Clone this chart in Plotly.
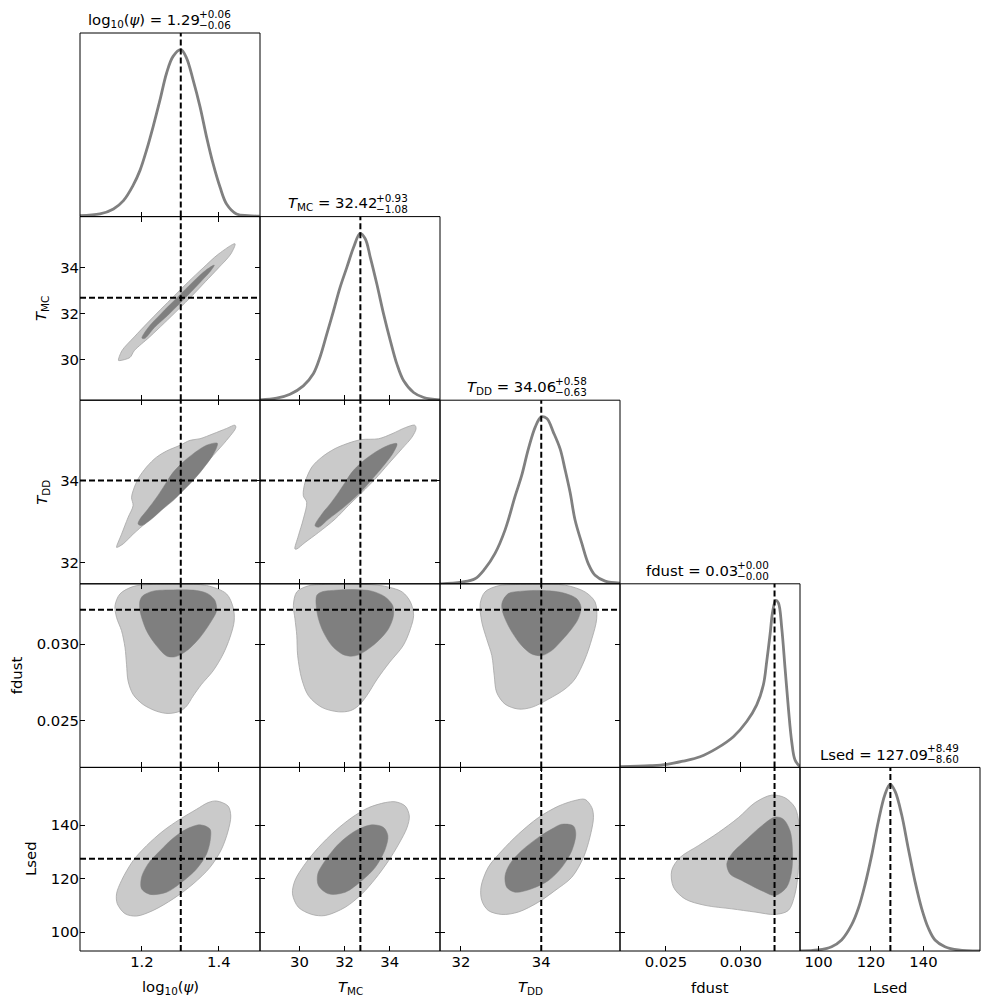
import plotly.graph_objects as go
from plotly.subplots import make_subplots

# ---------------- data ----------------
param_labels = ["log<sub>10</sub>(<i>ψ</i>)", "<i>T</i><sub>MC</sub>", "<i>T</i><sub>DD</sub>", "fdust", "Lsed"]
medians = ["1.29", "32.42", "34.06", "0.03", "127.09"]
err_plus = ["+0.06", "+0.93", "+0.58", "+0.00", "+8.49"]
err_minus = ["−0.06", "−1.08", "−0.63", "−0.00", "−8.60"]
truths = [1.301, 32.70, 34.00, 0.03225, 127.4]
tick_values = [[1.2, 1.4], [30, 32, 34], [32, 34], [0.025, 0.030], [100, 120, 140]]
tick_labels = [["1.2", "1.4"], ["30", "32", "34"], ["32", "34"], ["0.025", "0.030"], ["100", "120", "140"]]
axis_ranges = [[1.039, 1.507], [28.25, 36.23], [31.48, 35.96], [0.02193, 0.03395], [92.94, 161.56]]

# 1-D marginal densities (normalised to peak = 1)
psi_kde_x = [1.039, 1.091, 1.126, 1.152, 1.177, 1.195, 1.212, 1.229, 1.247, 1.264, 1.281, 1.301,
             1.316, 1.333, 1.351, 1.368, 1.385, 1.403, 1.420, 1.446, 1.476, 1.506]
psi_kde_y = [0.006, 0.016, 0.046, 0.096, 0.187, 0.277, 0.398, 0.538, 0.699, 0.859, 0.960, 1.0,
             0.950, 0.819, 0.659, 0.478, 0.317, 0.177, 0.076, 0.016, 0.006, 0.002]
tmc_kde_x = [28.25, 28.99, 29.58, 30.17, 30.62, 30.92, 31.21, 31.51, 31.80, 32.10, 32.40, 32.69,
             32.92, 33.14, 33.43, 33.73, 34.03, 34.32, 34.62, 35.06, 35.51, 36.25]
tmc_kde_y = [0.002, 0.012, 0.036, 0.086, 0.160, 0.262, 0.396, 0.536, 0.676, 0.796, 0.916, 1.0,
             0.966, 0.856, 0.696, 0.516, 0.356, 0.216, 0.116, 0.046, 0.016, 0.002]
tdd_kde_x = [31.48, 32.02, 32.35, 32.60, 32.85, 33.10, 33.35, 33.51, 33.68, 33.85, 34.00, 34.14,
             34.30, 34.47, 34.59, 34.72, 34.84, 35.01, 35.17, 35.34, 35.59, 35.96]
tdd_kde_y = [0.0, 0.010, 0.030, 0.091, 0.182, 0.323, 0.525, 0.646, 0.808, 0.939, 1.0, 0.990,
             0.909, 0.808, 0.687, 0.545, 0.384, 0.242, 0.121, 0.051, 0.016, 0.004]
fdust_kde_x = [0.021933, 0.023937, 0.02505, 0.026162, 0.027275, 0.028389, 0.029501, 0.030392,
               0.03106, 0.031505, 0.031728, 0.03195, 0.032128, 0.032328, 0.032506, 0.032729,
               0.032952, 0.033174, 0.033397, 0.033619, 0.033953]
fdust_kde_y = [0.004, 0.010, 0.018, 0.038, 0.064, 0.114, 0.184, 0.275, 0.375, 0.495, 0.635, 0.796,
               0.936, 1.0, 0.986, 0.836, 0.595, 0.355, 0.154, 0.044, 0.004]
lsed_kde_x = [92.9, 99.9, 105.0, 108.8, 112.6, 115.2, 117.7, 120.3, 122.8, 125.3, 127.3, 129.2,
              131.7, 134.2, 136.8, 139.3, 141.9, 144.4, 148.2, 153.3, 161.6]
lsed_kde_y = [0.0, 0.006, 0.026, 0.066, 0.156, 0.256, 0.396, 0.576, 0.776, 0.936, 1.0, 0.956,
              0.816, 0.616, 0.416, 0.256, 0.136, 0.066, 0.026, 0.006, 0.0]

# 2-D credible-region outlines (outer = light, inner = dark), (x, y) in data units
c21_outer = [(1.139, 29.98), (1.148, 30.40), (1.180, 31.00), (1.214, 31.60), (1.249, 32.20), (1.285, 32.80),
             (1.321, 33.40), (1.359, 34.00), (1.399, 34.60), (1.442, 35.05), (1.431, 34.60), (1.399, 34.00),
             (1.365, 33.40), (1.331, 32.80), (1.295, 32.20), (1.258, 31.60), (1.220, 31.00), (1.180, 30.40),
             (1.169, 30.11), (1.141, 29.97)]
c21_inner = [(1.200, 30.95), (1.216, 31.40), (1.249, 32.00), (1.291, 32.70), (1.333, 33.40), (1.366, 33.90),
             (1.388, 34.12), (1.380, 33.90), (1.353, 33.40), (1.313, 32.70), (1.271, 32.00), (1.232, 31.40),
             (1.207, 30.93)]
c31_outer = [(1.134, 32.37), (1.147, 32.69), (1.164, 33.10), (1.177, 33.39), (1.173, 33.58), (1.177, 33.75),
             (1.190, 34.04), (1.212, 34.33), (1.238, 34.57), (1.264, 34.72), (1.299, 34.86), (1.325, 34.98),
             (1.351, 35.02), (1.385, 35.14), (1.420, 35.27), (1.442, 35.35), (1.444, 35.29), (1.420, 34.98),
             (1.385, 34.61), (1.351, 34.25), (1.316, 33.88), (1.281, 33.55), (1.247, 33.26), (1.212, 32.98),
             (1.177, 32.69), (1.152, 32.46), (1.136, 32.37)]
c31_inner = [(1.396, 34.91), (1.368, 34.86), (1.333, 34.65), (1.307, 34.45), (1.281, 34.20), (1.264, 33.96),
             (1.247, 33.71), (1.229, 33.47), (1.212, 33.26), (1.195, 33.06), (1.190, 32.94), (1.199, 32.90),
             (1.225, 33.06), (1.255, 33.31), (1.281, 33.51), (1.307, 33.75), (1.333, 34.00), (1.359, 34.29),
             (1.381, 34.57), (1.394, 34.80)]
c41_outer = [(1.130, 0.03252), (1.143, 0.03329), (1.177, 0.03377), (1.221, 0.03390), (1.299, 0.03392),
             (1.368, 0.03384), (1.420, 0.03329), (1.437, 0.03241), (1.440, 0.03153), (1.429, 0.03044),
             (1.411, 0.02934), (1.385, 0.02825), (1.355, 0.02737), (1.333, 0.02660), (1.316, 0.02594),
             (1.299, 0.02561), (1.268, 0.02546), (1.238, 0.02561), (1.203, 0.02605), (1.177, 0.02671),
             (1.164, 0.02759), (1.160, 0.02868), (1.156, 0.02978), (1.147, 0.03088), (1.134, 0.03175)]
c41_inner = [(1.195, 0.03285), (1.195, 0.03219), (1.212, 0.03088), (1.238, 0.02989), (1.264, 0.02923),
             (1.286, 0.02917), (1.316, 0.02956), (1.351, 0.03044), (1.381, 0.03153), (1.394, 0.03219),
             (1.390, 0.03285), (1.372, 0.03329), (1.342, 0.03351), (1.281, 0.03355), (1.229, 0.03347),
             (1.203, 0.03318)]
c51_outer = [(1.394, 149.0), (1.424, 147.1), (1.431, 143.4), (1.424, 137.8), (1.407, 131.0), (1.377, 124.2),
             (1.333, 118.0), (1.281, 112.4), (1.229, 108.1), (1.186, 106.0), (1.156, 106.9), (1.136, 110.6),
             (1.134, 114.3), (1.147, 119.3), (1.177, 126.7), (1.212, 132.3), (1.255, 137.8), (1.299, 142.2),
             (1.342, 145.9), (1.372, 148.4)]
c51_inner = [(1.351, 140.1), (1.377, 138.5), (1.378, 134.7), (1.368, 129.2), (1.342, 123.6), (1.303, 118.6),
             (1.264, 114.9), (1.221, 114.1), (1.199, 116.2), (1.199, 120.5), (1.216, 125.5), (1.247, 130.4),
             (1.281, 135.1), (1.316, 138.5)]
c32_outer = [(29.80, 32.33), (29.95, 32.65), (30.17, 33.06), (30.32, 33.47), (30.17, 33.63), (30.25, 33.96),
             (30.55, 34.33), (30.99, 34.57), (31.58, 34.78), (32.32, 34.94), (32.77, 35.00), (33.51, 35.02),
             (34.10, 35.14), (34.69, 35.29), (35.11, 35.35), (35.17, 35.27), (34.99, 35.06), (34.55, 34.78),
             (33.95, 34.41), (33.36, 34.04), (32.77, 33.71), (32.17, 33.39), (31.58, 33.06), (30.84, 32.73),
             (30.25, 32.49), (29.88, 32.33)]
c32_inner = [(34.32, 34.90), (33.95, 34.86), (33.36, 34.69), (32.77, 34.45), (32.32, 34.20), (32.03, 33.96),
             (31.73, 33.71), (31.36, 33.43), (30.99, 33.18), (30.69, 32.90), (30.84, 32.86), (31.29, 33.06),
             (31.88, 33.31), (32.47, 33.59), (32.92, 33.84), (33.36, 34.12), (33.80, 34.41), (34.17, 34.69)]
c42_outer = [(29.73, 0.03254), (29.88, 0.03342), (30.40, 0.03382), (30.99, 0.03390), (32.47, 0.03392),
             (33.66, 0.03382), (34.55, 0.03342), (34.92, 0.03276), (35.06, 0.03189), (34.92, 0.03101),
             (34.60, 0.02991), (34.00, 0.02882), (33.45, 0.02772), (32.98, 0.02662), (32.62, 0.02597),
             (32.25, 0.02564), (31.73, 0.02557), (30.99, 0.02586), (30.40, 0.02662), (30.10, 0.02772),
             (29.92, 0.02925), (29.88, 0.03057), (29.80, 0.03166)]
c42_inner = [(30.77, 0.03320), (30.99, 0.03342), (31.58, 0.03353), (32.47, 0.03357), (33.21, 0.03347),
             (33.80, 0.03309), (34.13, 0.03254), (34.17, 0.03189), (33.95, 0.03101), (33.51, 0.03024),
             (33.06, 0.02969), (32.62, 0.02930), (32.25, 0.02921), (31.88, 0.02936), (31.43, 0.02991),
             (31.06, 0.03079), (30.84, 0.03166), (30.74, 0.03254)]
c43_outer = [(32.48, 0.03265), (32.60, 0.03342), (32.93, 0.03382), (33.35, 0.03390), (33.93, 0.03392),
             (34.59, 0.03386), (35.09, 0.03342), (35.34, 0.03276), (35.38, 0.03166), (35.26, 0.03035),
             (35.09, 0.02903), (34.84, 0.02772), (34.59, 0.02706), (34.18, 0.02640), (33.76, 0.02586),
             (33.43, 0.02575), (33.10, 0.02607), (32.89, 0.02684), (32.83, 0.02794), (32.77, 0.02925),
             (32.64, 0.03035), (32.52, 0.03145)]
c43_inner = [(33.03, 0.03276), (33.18, 0.03331), (33.51, 0.03347), (34.01, 0.03351), (34.51, 0.03338),
             (34.88, 0.03298), (34.99, 0.03243), (34.92, 0.03166), (34.76, 0.03101), (34.51, 0.03024),
             (34.26, 0.02958), (34.01, 0.02925), (33.76, 0.02936), (33.51, 0.02991), (33.27, 0.03079),
             (33.10, 0.03166), (33.02, 0.03232)]
c52_outer = [(34.25, 148.7), (34.69, 147.1), (34.87, 143.4), (34.77, 139.1), (34.40, 132.9), (33.95, 126.7),
             (33.36, 119.9), (32.77, 114.3), (32.03, 109.3), (31.14, 106.2), (30.55, 106.6), (29.95, 109.3),
             (29.69, 114.3), (29.80, 119.3), (30.25, 125.5), (30.84, 131.6), (31.58, 137.8), (32.32, 142.8),
             (33.06, 146.5), (33.80, 148.4)]
c52_inner = [(33.21, 140.1), (33.73, 139.1), (33.92, 136.0), (33.80, 131.0), (33.36, 124.2), (32.77, 119.3),
             (32.03, 114.9), (31.29, 114.3), (30.84, 117.4), (30.81, 121.7), (31.14, 126.7), (31.73, 132.9),
             (32.47, 137.8)]
c53_outer = [(35.09, 149.6), (35.26, 146.5), (35.30, 142.8), (35.21, 135.4), (35.05, 127.9), (34.76, 120.5),
             (34.34, 115.5), (33.93, 111.2), (33.43, 107.5), (33.02, 106.6), (32.68, 108.1), (32.52, 111.8),
             (32.50, 116.8), (32.68, 124.2), (33.02, 130.4), (33.43, 136.6), (33.93, 142.8), (34.43, 147.1),
             (34.84, 149.2)]
c53_inner = [(34.51, 140.3), (34.80, 139.7), (34.86, 136.6), (34.76, 130.4), (34.51, 124.2), (34.18, 119.3),
             (33.76, 116.2), (33.35, 114.9), (33.14, 116.8), (33.10, 121.1), (33.22, 125.5), (33.51, 130.4),
             (33.93, 135.4), (34.26, 138.5)]
c54_outer = [(0.03206, 151.2), (0.03295, 150.2), (0.03362, 146.5), (0.03389, 140.3), (0.03391, 132.9),
             (0.03384, 123.0), (0.03362, 114.3), (0.03317, 108.1), (0.03228, 106.6), (0.03095, 107.5),
             (0.02939, 108.7), (0.02761, 110.0), (0.02627, 112.4), (0.02550, 116.8), (0.02538, 123.0),
             (0.02594, 127.9), (0.02716, 132.3), (0.02850, 137.2), (0.02984, 142.8), (0.03095, 148.4)]
c54_inner = [(0.03228, 143.0), (0.03284, 142.2), (0.03329, 137.8), (0.03344, 131.6), (0.03340, 123.0),
             (0.03306, 116.8), (0.03228, 113.7), (0.03139, 115.5), (0.03006, 119.3), (0.02928, 121.7),
             (0.02906, 125.5), (0.02939, 129.2), (0.03028, 134.1), (0.03139, 139.7)]

# ---------------- assembly ----------------
kde_x = [psi_kde_x, tmc_kde_x, tdd_kde_x, fdust_kde_x, lsed_kde_x]
kde_y = [psi_kde_y, tmc_kde_y, tdd_kde_y, fdust_kde_y, lsed_kde_y]
contours = {
    (1, 0): (c21_outer, c21_inner), (2, 0): (c31_outer, c31_inner), (3, 0): (c41_outer, c41_inner),
    (4, 0): (c51_outer, c51_inner), (2, 1): (c32_outer, c32_inner), (3, 1): (c42_outer, c42_inner),
    (4, 1): (c52_outer, c52_inner), (3, 2): (c43_outer, c43_inner), (4, 2): (c53_outer, c53_inner),
    (4, 3): (c54_outer, c54_inner),
}

N = 5
FONT = "DejaVu Sans"
FS = 14.8
FS_SMALL = 10.4
LIGHT, LIGHT_EDGE, DARK = "#cacaca", "#a6a6a6", "#7f7f7f"
CURVE = "#808080"
DASH = dict(color="black", width=2, dash="6px,3px")

fig = make_subplots(rows=N, cols=N, horizontal_spacing=0, vertical_spacing=0,
                    specs=[[{} if c <= r else None for c in range(N)] for r in range(N)])


def closed(pts):
    xs = [p[0] for p in pts] + [pts[0][0]]
    ys = [p[1] for p in pts] + [pts[0][1]]
    return xs, ys


for (r, c), (outer, inner) in contours.items():
    xs, ys = closed(outer)
    fig.add_trace(go.Scatter(x=xs, y=ys, mode="lines", fill="toself", fillcolor=LIGHT,
                             line=dict(color=LIGHT_EDGE, width=0.8, shape="spline", smoothing=0.9),
                             hoverinfo="skip", showlegend=False), row=r + 1, col=c + 1)
    xs, ys = closed(inner)
    fig.add_trace(go.Scatter(x=xs, y=ys, mode="lines", fill="toself", fillcolor=DARK,
                             line=dict(color=DARK, width=0.5, shape="spline", smoothing=0.9),
                             hoverinfo="skip", showlegend=False), row=r + 1, col=c + 1)

for i in range(N):
    fig.add_trace(go.Scatter(x=kde_x[i], y=kde_y[i], mode="lines",
                             line=dict(color=CURVE, width=2.8, shape="spline", smoothing=1.0),
                             hoverinfo="skip", showlegend=False), row=i + 1, col=i + 1)

axis_common = dict(showgrid=False, zeroline=False, showline=False,
                   ticks="inside", ticklen=5, tickwidth=1, tickcolor="black",
                   tickfont=dict(family=FONT, size=FS, color="black"))

for r in range(N):
    for c in range(r + 1):
        diag = (r == c)
        fig.update_xaxes(range=axis_ranges[c], tickvals=tick_values[c], ticktext=tick_labels[c],
                         showticklabels=(r == N - 1), mirror=(False if diag else "ticks"),
                         row=r + 1, col=c + 1, **axis_common)
        if diag:
            fig.update_yaxes(range=[0, 1.1], showticklabels=False, showgrid=False, zeroline=False,
                             showline=False, ticks="", row=r + 1, col=c + 1)
        else:
            fig.update_yaxes(range=axis_ranges[r], tickvals=tick_values[r], ticktext=tick_labels[r],
                             showticklabels=(c == 0), mirror="ticks", row=r + 1, col=c + 1, **axis_common)
        fig.add_vline(x=truths[c], line=DASH, row=r + 1, col=c + 1)
        if not diag:
            fig.add_hline(y=truths[r], line=DASH, row=r + 1, col=c + 1)
        # panel frame
        fig.add_shape(type="rect", xref="x domain", yref="y domain", x0=0, x1=1, y0=0, y1=1,
                      line=dict(color="black", width=1), fillcolor="rgba(0,0,0,0)", layer="above",
                      row=r + 1, col=c + 1)

# titles above diagonal panels
title_shift = [30, 27, 26, 28, 38]
ann = []
for i in range(N):
    xc = (i + 0.5) / N
    ytop = 1 - i / N
    ann.append(dict(x=xc, y=ytop, xref="paper", yref="paper", xanchor="right", yanchor="middle",
                    xshift=title_shift[i] + 2, yshift=13, showarrow=False,
                    text=f"{param_labels[i]} = {medians[i]}", font=dict(family=FONT, size=FS, color="black")))
    ann.append(dict(x=xc, y=ytop, xref="paper", yref="paper", xanchor="left", yanchor="middle",
                    xshift=title_shift[i] - 3, yshift=19, showarrow=False,
                    text=err_plus[i], font=dict(family=FONT, size=FS_SMALL, color="black")))
    ann.append(dict(x=xc, y=ytop, xref="paper", yref="paper", xanchor="left", yanchor="middle",
                    xshift=title_shift[i] - 3, yshift=8, showarrow=False,
                    text=err_minus[i], font=dict(family=FONT, size=FS_SMALL, color="black")))
    # x-axis titles
    ann.append(dict(x=xc, y=0, xref="paper", yref="paper", xanchor="center", yanchor="middle",
                    yshift=-36, showarrow=False, text=param_labels[i],
                    font=dict(family=FONT, size=FS, color="black")))

ylabel_px = [None, 41.7, 41.7, 16.7, 30.7]
for r in range(1, N):
    ann.append(dict(x=0, y=1 - (r + 0.5) / N, xref="paper", yref="paper", xanchor="center",
                    yanchor="middle", xshift=ylabel_px[r] - 80, showarrow=False, textangle=-90,
                    text=param_labels[r], font=dict(family=FONT, size=FS, color="black")))

fig.update_layout(width=990, height=1005, margin=dict(l=80, r=10, t=33, b=54),
                  plot_bgcolor="white", paper_bgcolor="white", showlegend=False,
                  font=dict(family=FONT, size=FS, color="black"), annotations=ann)

fig.write_html("out.html")
